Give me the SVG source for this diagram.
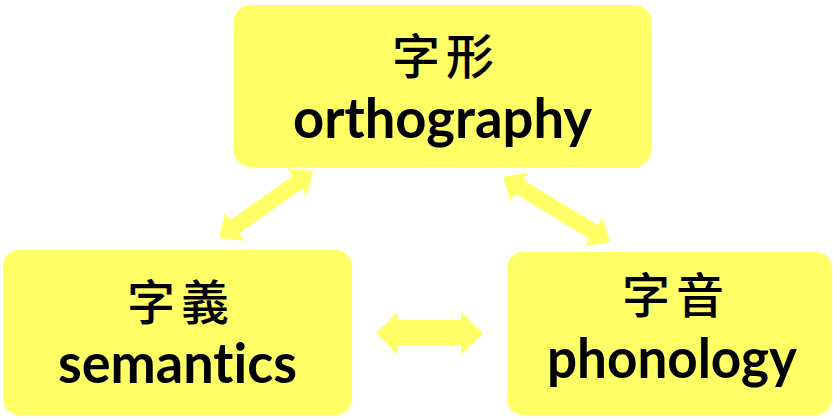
<svg xmlns="http://www.w3.org/2000/svg" width="833" height="419" viewBox="0 0 833 419">
<style>
.box{fill:#FFFF66;}
.arr{fill:#FFFF66;}
.zh{font-family:"Noto Sans CJK TC","Noto Sans CJK SC",sans-serif;font-size:48px;font-weight:500;fill:#000;text-anchor:middle;letter-spacing:6px;}
.en{font-family:Lato,"Open Sans","Liberation Sans",sans-serif;font-weight:700;font-size:56px;fill:#000;text-anchor:middle;font-variant-ligatures:none;font-feature-settings:"liga" 0;}
</style>
<rect width="833" height="419" fill="#fff"/>
<g id="connectors">
<polygon class="arr" transform="translate(266,204.5) rotate(-35.5)" points="-57.5,0 -38.5,-17 -38.5,-8 38.5,-8 38.5,-17 57.5,0 38.5,17 38.5,8 -38.5,8 -38.5,17"/>
<polygon class="arr" transform="translate(556.5,209.5) rotate(31.3)" points="-62.5,0 -43.5,-17 -43.5,-8 43.5,-8 43.5,-17 62.5,0 43.5,17 43.5,8 -43.5,8 -43.5,17"/>
<polygon class="arr" transform="translate(429.5,333)" points="-53.5,0 -31.5,-21.5 -31.5,-13 31.5,-13 31.5,-21.5 53.5,0 31.5,21.5 31.5,13 -31.5,13 -31.5,21.5"/>
</g>
<g id="orthography">
<rect class="box" x="234" y="5" width="417" height="162" rx="16"/>
<text class="zh" x="446" y="74">字形</text>
<text class="en" x="442.5" y="138" textLength="299" lengthAdjust="spacingAndGlyphs">orthography</text>
</g>
<g id="semantics">
<rect class="box" x="3" y="250" width="349" height="165" rx="16"/>
<text class="zh" x="181" y="320">字義</text>
<text class="en" x="177.5" y="383" textLength="239" lengthAdjust="spacingAndGlyphs">semantics</text>
</g>
<g id="phonology">
<rect class="box" x="507" y="252" width="325" height="163" rx="16"/>
<text class="zh" x="676" y="313">字音</text>
<text class="en" x="672" y="378" textLength="250" lengthAdjust="spacingAndGlyphs">phonology</text>
</g>
</svg>
